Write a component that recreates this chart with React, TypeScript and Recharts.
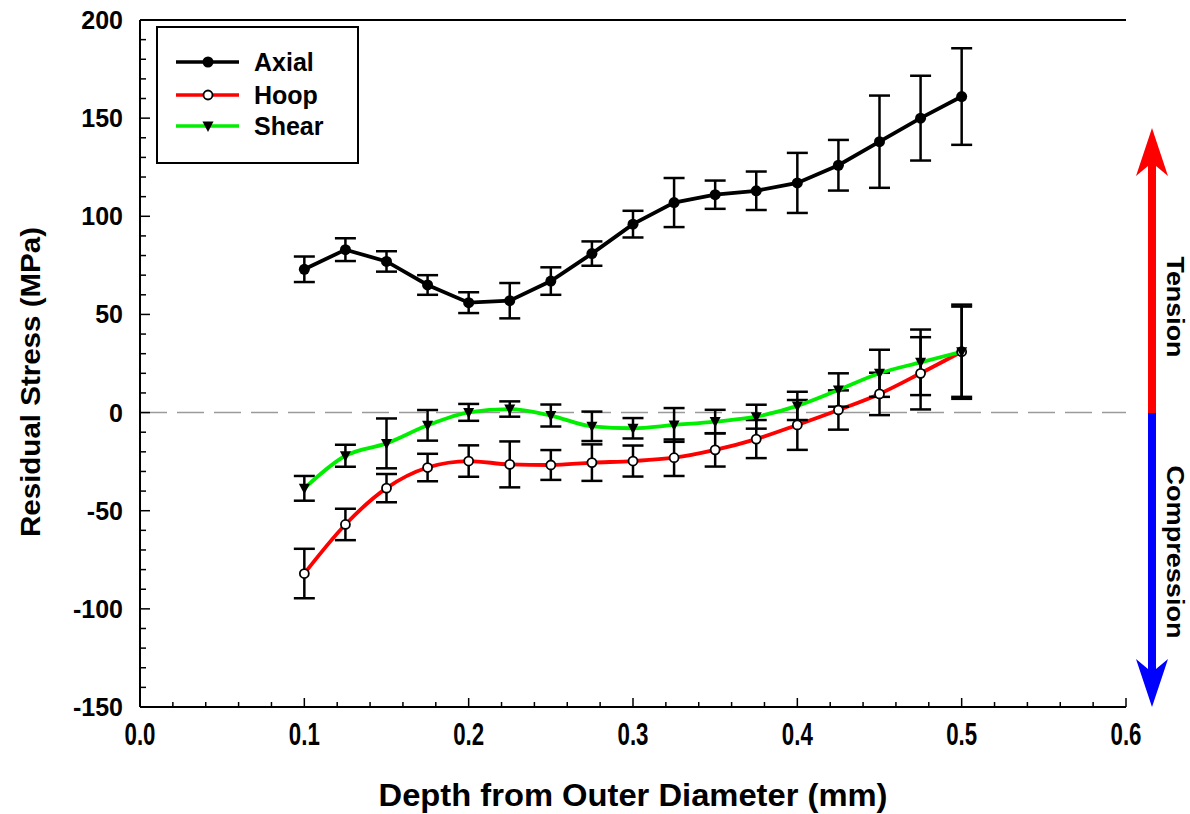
import React from "react";
import { LineChart, Line, XAxis, YAxis, ErrorBar, ReferenceLine, Legend, Label } from "recharts";

// depth from outer diameter (mm)
const depth = [0.1, 0.125, 0.15, 0.175, 0.2, 0.225, 0.25, 0.275, 0.3, 0.325, 0.35, 0.375, 0.4, 0.425, 0.45, 0.475, 0.5];

// residual stress (MPa) and error
const axial = [73, 83, 77, 65, 56, 57, 67, 81, 96, 107, 111, 113, 117, 126, 138, 150, 161];
const axialErr = [6.5, 5.8, 5.2, 5, 5.3, 9, 7, 6.2, 6.8, 12.5, 7.2, 9.8, 15.3, 12.9, 23.5, 21.6, 24.6];

const hoop = [-82, -57, -38.5, -28, -24.7, -26.4, -26.7, -25.5, -24.7, -23, -19, -13.5, -6.3, 1.3, 9.5, 20, 31];
const hoopErr = [12.6, 8, 7.2, 7, 8, 11.7, 7.6, 9.3, 7.9, 9.3, 8.5, 9.7, 12.7, 10, 10.8, 18.4, 23];

const shear = [-38.6, -22, -15.7, -6.5, 0.1, 1.8, -1.5, -7, -8, -6.3, -4.6, -2.1, 3.4, 11.5, 20, 25.6, 31];
const shearErr = [6.3, 5.6, 12.7, 7.8, 4.3, 3.9, 5.6, 7.5, 5.2, 8.6, 6, 6.1, 7.2, 8.5, 12, 16.7, 24];

// axis ticks (majors get labels)
const xTicks = [
  0, 0.02, 0.04, 0.06, 0.08, 0.1, 0.12, 0.14, 0.16, 0.18, 0.2, 0.22, 0.24, 0.26, 0.28, 0.3,
  0.32, 0.34, 0.36, 0.38, 0.4, 0.42, 0.44, 0.46, 0.48, 0.5, 0.52, 0.54, 0.56, 0.58, 0.6,
];
const yTicks = [
  -150, -140, -130, -120, -110, -100, -90, -80, -70, -60, -50, -40, -30, -20, -10, 0, 10, 20,
  30, 40, 50, 60, 70, 80, 90, 100, 110, 120, 130, 140, 150, 160, 170, 180, 190, 200,
];
const yMajorTicks = [-150, -100, -50, 0, 50, 100, 150, 200];

const series = [
  { key: "axial", name: "Axial", color: "#000000", curve: "linear" },
  { key: "hoop", name: "Hoop", color: "#ff0000", curve: "monotone" },
  { key: "shear", name: "Shear", color: "#00ee00", curve: "monotone" },
];

const data = depth.map((x, i) => ({
  x,
  axial: axial[i],
  axialErr: axialErr[i],
  hoop: hoop[i],
  hoopErr: hoopErr[i],
  shear: shear[i],
  shearErr: shearErr[i],
}));

const FONT = '"Liberation Sans", Arial, Helvetica, sans-serif';

function Marker({ kind, cx, cy }: { kind: string; cx: number; cy: number }) {
  if (kind === "axial") return <circle cx={cx} cy={cy} r={5.5} fill="#000" />;
  if (kind === "hoop") return <circle cx={cx} cy={cy} r={4.5} fill="#fff" stroke="#000" strokeWidth={1.8} />;
  return (
    <polygon
      points={`${cx - 5.5},${cy - 4.5} ${cx + 5.5},${cy - 4.5} ${cx},${cy + 6}`}
      fill="#000"
    />
  );
}

function XTick(props: any) {
  const { x, y, payload } = props;
  const v = payload.value;
  const major = Math.abs(v * 10 - Math.round(v * 10)) < 1e-6;
  return (
    <g>
      <line x1={x} x2={x} y1={y} y2={y - (major ? 9 : 5)} stroke="#000" strokeWidth={1.5} />
      {major && (
        <text
          x={x}
          y={y + 38}
          textAnchor="middle"
          fontFamily={FONT}
          fontWeight="bold"
          fontSize={31}
          textLength={31}
          lengthAdjust="spacingAndGlyphs"
          fill="#000"
        >
          {v.toFixed(1)}
        </text>
      )}
    </g>
  );
}

function YTick(props: any) {
  const { x, y, payload } = props;
  const v = payload.value;
  const major = v % 50 === 0;
  return (
    <g>
      <line x1={x} x2={x + (major ? 10 : 6)} y1={y} y2={y} stroke="#000" strokeWidth={1.5} />
      {major && (
        <text
          x={x - 17}
          y={y + 9}
          textAnchor="end"
          fontFamily={FONT}
          fontWeight="bold"
          fontSize={25}
          fill="#000"
        >
          {v}
        </text>
      )}
    </g>
  );
}

function RightTick(props: any) {
  const { x, y } = props;
  return <line x1={x} x2={x - 10} y1={y} y2={y} stroke="#000" strokeWidth={1.5} />;
}

function LegendBox() {
  const rows = [62, 95, 126];
  return (
    <svg width={203} height={138} style={{ display: "block" }}>
      <rect x={1} y={1} width={201} height={136} fill="#fff" stroke="#000" strokeWidth={2} />
      {series.map((s, i) => {
        const cy = rows[i] - 26;
        return (
          <g key={s.key}>
            <line x1={20} x2={83} y1={cy} y2={cy} stroke={s.color} strokeWidth={3.5} />
            <Marker kind={s.key} cx={52} cy={cy} />
            <text x={98} y={cy + 9} fontFamily={FONT} fontWeight="bold" fontSize={25} fill="#000">
              {s.name}
            </text>
          </g>
        );
      })}
    </svg>
  );
}

function SideArrows() {
  const cx = 1152;
  const zeroY = 413;
  return (
    <svg
      width={1190}
      height={814}
      style={{ position: "absolute", left: 0, top: 0, pointerEvents: "none" }}
    >
      <polygon
        points={`${cx},128 ${cx + 16},176 ${cx + 4},166 ${cx + 4},${zeroY} ${cx - 4},${zeroY} ${cx - 4},166 ${cx - 16},176`}
        fill="#ff0000"
      />
      <polygon
        points={`${cx},707 ${cx + 16},659 ${cx + 4},669 ${cx + 4},${zeroY} ${cx - 4},${zeroY} ${cx - 4},669 ${cx - 16},659`}
        fill="#0000ff"
      />
      <text
        x={1175}
        y={307}
        transform="rotate(90 1175 307)"
        textAnchor="middle"
        dominantBaseline="central"
        fontFamily={FONT}
        fontWeight="bold"
        fontSize={24}
        textLength={101}
        lengthAdjust="spacingAndGlyphs"
        fill="#000"
      >
        Tension
      </text>
      <text
        x={1175}
        y={552}
        transform="rotate(90 1175 552)"
        textAnchor="middle"
        dominantBaseline="central"
        fontFamily={FONT}
        fontWeight="bold"
        fontSize={24}
        textLength={173}
        lengthAdjust="spacingAndGlyphs"
        fill="#000"
      >
        Compression
      </text>
    </svg>
  );
}

export default function App() {
  return (
    <div style={{ position: "absolute", left: 0, top: 0, width: 1190, height: 814, background: "#fff" }}>
      <LineChart width={1190} height={814} data={data} margin={{ top: 20, right: 64, bottom: 0, left: 0 }}>
        <XAxis
          dataKey="x"
          type="number"
          domain={[0, 0.6]}
          ticks={xTicks}
          interval={0}
          height={107}
          tickSize={0}
          tickMargin={0}
          tickLine={false}
          axisLine={{ stroke: "#000", strokeWidth: 2 }}
          tick={<XTick />}
        >
          <Label
            content={(p: any) => (
              <text
                x={p.viewBox.x + p.viewBox.width / 2}
                y={p.viewBox.y + 99}
                textAnchor="middle"
                fontFamily={FONT}
                fontWeight="bold"
                fontSize={32}
                textLength={509}
                lengthAdjust="spacingAndGlyphs"
                fill="#000"
              >
                Depth from Outer Diameter (mm)
              </text>
            )}
          />
        </XAxis>
        <YAxis
          type="number"
          domain={[-150, 200]}
          ticks={yTicks}
          interval={0}
          width={140}
          tickSize={0}
          tickMargin={0}
          tickLine={false}
          axisLine={{ stroke: "#000", strokeWidth: 2 }}
          tick={<YTick />}
        >
          <Label
            content={() => (
              <text
                x={30}
                y={382}
                transform="rotate(-90 30 382)"
                textAnchor="middle"
                dominantBaseline="central"
                fontFamily={FONT}
                fontWeight="bold"
                fontSize={28}
                textLength={310}
                lengthAdjust="spacingAndGlyphs"
                fill="#000"
              >
                Residual Stress (MPa)
              </text>
            )}
          />
        </YAxis>
        <YAxis
          yAxisId="right"
          orientation="right"
          type="number"
          domain={[-150, 200]}
          ticks={yMajorTicks}
          interval={0}
          width={0}
          tickSize={0}
          tickMargin={0}
          tickLine={false}
          axisLine={{ stroke: "#000", strokeWidth: 2 }}
          tick={<RightTick />}
        />
        <ReferenceLine y={200} stroke="#000" strokeWidth={2} />
        <ReferenceLine y={0} stroke="#9a9a9a" strokeWidth={1.5} strokeDasharray="27 10" />
        <Legend
          layout="vertical"
          align="center"
          verticalAlign="middle"
          wrapperStyle={{ left: 156, top: 26, width: 203, height: 138 }}
          content={() => <LegendBox />}
        />
        {series.map((s) => (
          <Line
            key={s.key}
            dataKey={s.key}
            name={s.name}
            type={s.curve as any}
            stroke={s.color}
            strokeWidth={3.8}
            isAnimationActive={false}
            dot={(p: any) => <Marker key={`${s.key}-${p.index}`} kind={s.key} cx={p.cx} cy={p.cy} />}
            activeDot={false}
          >
            <ErrorBar
              dataKey={`${s.key}Err`}
              direction="y"
              width={10.5}
              stroke="#000"
              strokeWidth={2.5}
              isAnimationActive={false}
            />
          </Line>
        ))}
      </LineChart>
      <SideArrows />
    </div>
  );
}
